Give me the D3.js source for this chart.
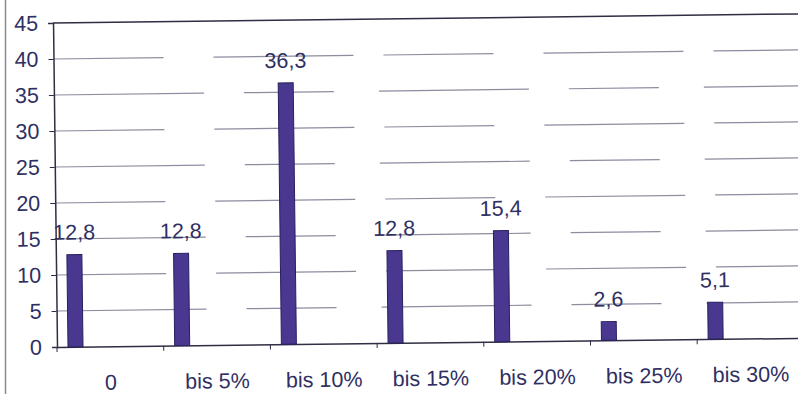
<!DOCTYPE html>
<html>
<head>
<meta charset="utf-8">
<script src="https://cdn.jsdelivr.net/npm/d3@7"></script>
<style>
  html, body { margin: 0; padding: 0; background: #fff; }
  svg { display: block; }
</style>
</head>
<body>
<svg id="chart" width="798" height="394"></svg>
<script>
// Share of respondents per range
const categories = ["0", "bis 5%", "bis 10%", "bis 15%", "bis 20%", "bis 25%", "bis 30%"];
const values = [12.8, 12.8, 36.3, 12.8, 15.4, 2.6, 5.1];
const valueLabels = ["12,8", "12,8", "36,3", "12,8", "15,4", "2,6", "5,1"];
const yTicks = [0, 5, 10, 15, 20, 25, 30, 35, 40, 45];

const svg = d3.select("#chart");
const W = 798, H = 394;
const left = 57, zeroY = 347, topY = 23, bandW = 106.7;
const right = left + bandW * categories.length;

const textColor = "#2f2f62";
const font = "'Liberation Sans', Arial, sans-serif";
const fontSize = 21.5;

// frame edge on the left
svg.append("line")
  .attr("x1", 5.5).attr("x2", 5.5).attr("y1", 0).attr("y2", H)
  .attr("stroke", "#8a8a96").attr("stroke-width", 1.5);

// the whole plot sits slightly tilted
const g = svg.append("g")
  .attr("transform", `rotate(-0.7, ${left}, ${zeroY})`);

const x = d3.scaleBand().domain(categories).range([left, right]).padding(0);
const y = d3.scaleLinear().domain([0, 45]).range([zeroY, topY]);

// gridlines
g.append("g").selectAll("line")
  .data(yTicks.filter(t => t > 0 && t < 45))
  .join("line")
  .attr("x1", left).attr("x2", right)
  .attr("y1", d => y(d)).attr("y2", d => y(d))
  .attr("stroke", "#5c5c78").attr("stroke-opacity", 0.7)
  .attr("stroke-width", 1.2)
  .attr("stroke-dasharray", (d, i) => i % 2 ? "110,50,140,30" : "150,40,90,45");

// top border at 45
g.append("line")
  .attr("x1", left).attr("x2", right)
  .attr("y1", y(45)).attr("y2", y(45))
  .attr("stroke", "#2e2e44").attr("stroke-width", 1.5);

// y axis
const yAxis = d3.axisLeft(y).tickValues(yTicks).tickSize(5).tickPadding(10)
  .tickFormat(d3.format("d"));
const ya = g.append("g").attr("transform", `translate(${left},0)`).call(yAxis);
ya.select(".domain").attr("stroke", "#2e2e44").attr("stroke-width", 1.5);
ya.selectAll(".tick line").attr("stroke", "#2e2e44");
ya.selectAll(".tick text")
  .attr("fill", textColor).attr("font-family", font).attr("font-size", fontSize);

// x axis
const xAxis = d3.axisBottom(x).tickSize(0).tickPadding(28);
const xa = g.append("g").attr("transform", `translate(0,${zeroY})`).call(xAxis);
xa.select(".domain").attr("stroke", "#2e2e44").attr("stroke-width", 1.5);
xa.selectAll(".tick text")
  .attr("fill", textColor).attr("font-family", font).attr("font-size", fontSize);

// category separators below the axis
g.append("g").selectAll("line")
  .data(categories)
  .join("line")
  .attr("x1", d => x(d)).attr("x2", d => x(d))
  .attr("y1", zeroY).attr("y2", zeroY + 5)
  .attr("stroke", "#2e2e44");

// bars
const barOffset = 11, barW = 15;
g.append("g").selectAll("rect")
  .data(values)
  .join("rect")
  .attr("x", (d, i) => x(categories[i]) + barOffset)
  .attr("y", d => y(d))
  .attr("width", barW)
  .attr("height", d => zeroY - y(d))
  .attr("fill", "#4a3790")
  .attr("stroke", "#272060").attr("stroke-width", 1);

// value labels
g.append("g").selectAll("text")
  .data(values)
  .join("text")
  .attr("x", (d, i) => x(categories[i]) + barOffset + barW / 2)
  .attr("y", d => y(d) - 15)
  .attr("text-anchor", "middle")
  .attr("fill", textColor).attr("font-family", font).attr("font-size", fontSize)
  .text((d, i) => valueLabels[i]);
</script>
</body>
</html>
